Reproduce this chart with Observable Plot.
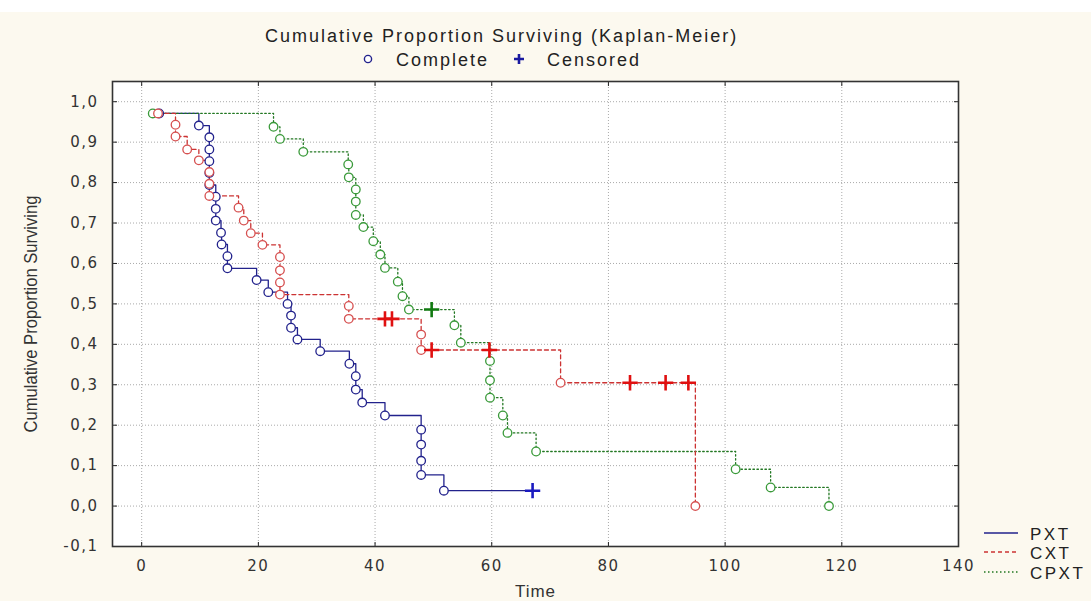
<!DOCTYPE html>
<html><head><meta charset="utf-8">
<script src="https://cdn.jsdelivr.net/npm/d3@7"></script>
<script src="https://cdn.jsdelivr.net/npm/@observablehq/plot@0.6"></script>
<style>
html,body{margin:0;padding:0;background:#fcf9ef;}
#wrap{position:relative;width:1091px;height:601px;background:#fcf9ef;overflow:hidden;}
#head{position:relative;height:70px;}
#strip{position:absolute;left:0;top:0;width:1091px;height:12px;background:#fff;}
.t{position:absolute;font-family:"Liberation Sans",Arial,sans-serif;color:#222;white-space:nowrap;line-height:1;}
#chart svg{display:block;}
</style></head><body>
<div id="wrap">
  <div id="head">
    <div id="strip"></div>
    <div class="t" style="left:265px;top:27px;font-size:18px;letter-spacing:2px;">Cumulative Proportion Surviving (Kaplan-Meier)</div>
    <svg style="position:absolute;left:362px;top:53px" width="12" height="12"><circle cx="6" cy="6" r="3.6" fill="white" stroke="#22228c" stroke-width="1.4"/></svg>
    <div class="t" style="left:396px;top:51px;font-size:18px;letter-spacing:2px;">Complete</div>
    <svg style="position:absolute;left:512px;top:52px" width="14" height="14"><path d="M7,2V12M2,7H12" stroke="#1a1aa0" stroke-width="2.6"/></svg>
    <div class="t" style="left:547px;top:51px;font-size:18px;letter-spacing:2px;">Censored</div>
  </div>
  <div id="chart"></div>
  <svg style="position:absolute;left:980px;top:525px" width="42" height="60">
    <line x1="4" x2="38" y1="8" y2="8" stroke="#22228c" stroke-width="1.3"/>
    <line x1="4" x2="38" y1="27" y2="27" stroke="#cc3333" stroke-width="1.3" stroke-dasharray="4,3"/>
    <line x1="4" x2="38" y1="47" y2="47" stroke="#227722" stroke-width="1.3" stroke-dasharray="1.5,2.5"/>
  </svg>
  <div class="t" style="left:1030px;top:526px;font-size:17px;letter-spacing:2.5px;">PXT</div>
  <div class="t" style="left:1030px;top:545px;font-size:17px;letter-spacing:2.5px;">CXT</div>
  <div class="t" style="left:1030px;top:565px;font-size:17px;letter-spacing:2.5px;">CPXT</div>
</div>
<script>
// ---- data ----
const seriesNames = ["PXT", "CXT", "CPXT"];
const xTicks = [0, 20, 40, 60, 80, 100, 120, 140];
const yTicks = [-0.1, 0, 0.1, 0.2, 0.3, 0.4, 0.5, 0.6, 0.7, 0.8, 0.9, 1.0];

// PXT (0 = complete, 1 = censored)
const pxtTime = [3, 9.8, 11.6, 11.6, 11.6, 11.6, 11.6, 12.7, 12.7, 12.7, 13.6, 13.7, 14.7, 14.7, 19.7, 21.7, 25.0, 25.6, 25.6, 26.7, 30.6, 35.6, 36.7, 36.7, 37.8, 41.7, 47.9, 47.9, 47.9, 47.9, 51.8, 67];
const pxtSurv = [0.971, 0.941, 0.912, 0.882, 0.853, 0.824, 0.794, 0.765, 0.735, 0.706, 0.676, 0.647, 0.618, 0.588, 0.559, 0.529, 0.500, 0.471, 0.441, 0.412, 0.383, 0.352, 0.321, 0.288, 0.256, 0.224, 0.189, 0.152, 0.112, 0.077, 0.038, 0.038];
const pxtCens = [0,0,0,0,0,0,0,0,0,0,0,0,0,0,0,0,0,0,0,0,0,0,0,0,0,0,0,0,0,0,0,1];

// CXT
const cxtTime = [2.8, 5.8, 5.8, 7.8, 9.8, 11.6, 11.6, 11.6, 16.6, 17.5, 18.7, 20.7, 23.7, 23.7, 23.7, 23.7, 35.5, 35.5, 41.7, 42.9, 47.9, 47.9, 49.7, 59.6, 71.8, 83.7, 89.8, 93.7, 94.9];
const cxtSurv = [0.971, 0.943, 0.914, 0.882, 0.855, 0.826, 0.797, 0.767, 0.738, 0.706, 0.675, 0.646, 0.616, 0.583, 0.553, 0.523, 0.495, 0.463, 0.463, 0.463, 0.424, 0.386, 0.386, 0.386, 0.305, 0.305, 0.305, 0.305, 0.0];
const cxtCens = [0,0,0,0,0,0,0,0,0,0,0,0,0,0,0,0,0,0,1,1,0,0,1,1,0,1,1,1,0];

// CPXT
const cpxtTime = [1.9, 22.6, 23.7, 27.7, 35.4, 35.5, 36.7, 36.7, 36.7, 38.0, 39.7, 40.9, 41.7, 43.9, 44.7, 45.8, 49.7, 53.6, 54.7, 59.7, 59.7, 59.7, 61.9, 62.7, 67.6, 101.8, 107.8, 117.8];
const cpxtSurv = [0.971, 0.938, 0.908, 0.876, 0.845, 0.813, 0.783, 0.753, 0.720, 0.690, 0.655, 0.622, 0.589, 0.555, 0.519, 0.486, 0.486, 0.447, 0.404, 0.359, 0.311, 0.268, 0.224, 0.181, 0.135, 0.091, 0.046, 0.0];
const cpxtCens = [0,0,0,0,0,0,0,0,0,0,0,0,0,0,0,0,1,0,0,0,0,0,0,0,0,0,0,0];

// ---- build table ----
function rowsOf(name, T, S, C) { return T.map((t, i) => ({series: name, t, s: S[i], c: C[i]})); }
const pxt = rowsOf("PXT", pxtTime, pxtSurv, pxtCens);
const cxt = rowsOf("CXT", cxtTime, cxtSurv, cxtCens);
const cpxt = rowsOf("CPXT", cpxtTime, cpxtSurv, cpxtCens);

const fmt = d => d.toFixed(1).replace(".", ",");
const blank = () => "";

const chart = Plot.plot({
  width: 1091,
  height: 531,
  marginTop: 11,
  marginBottom: 55,
  marginLeft: 112,
  marginRight: 133,
  style: {background: "transparent", fontFamily: "'DejaVu Sans', sans-serif", fontSize: "15px", color: "#333"},
  x: {domain: [-5, 140]},
  y: {domain: [-0.1, 1.05]},
  marks: [
    Plot.rect([0], {x1: -5, x2: 140, y1: -0.1, y2: 1.05, fill: "white"}),
    Plot.gridX(xTicks, {stroke: "#aaa", strokeOpacity: 1, strokeDasharray: "1,2"}),
    Plot.gridY(yTicks, {stroke: "#aaa", strokeOpacity: 1, strokeDasharray: "1,2"}),
    Plot.axisY({ticks: yTicks, tickFormat: fmt, tickSize: -5, tickPadding: 19, label: null, stroke: "#222"}),
    Plot.axisY({ticks: [], label: "Cumulative Proportion Surviving", labelAnchor: "center", labelOffset: 88, labelArrow: "none", fontFamily: "'Liberation Sans', sans-serif", fontSize: 18}),
    Plot.axisY({anchor: "right", ticks: yTicks, tickFormat: blank, tickSize: -5, label: null, stroke: "#222"}),
    Plot.axisX({ticks: xTicks, tickSize: -4, tickPadding: 18, label: null, stroke: "#222"}),
    Plot.axisX({ticks: [], label: "Time", labelAnchor: "center", labelOffset: 50, labelArrow: "none", fontFamily: "'Liberation Sans', sans-serif", fontSize: 17}),
    Plot.axisX({anchor: "top", ticks: xTicks, tickFormat: blank, tickSize: -4, label: null, stroke: "#222"}),
    Plot.frame({stroke: "#333", strokeWidth: 1.6}),
    Plot.line(pxt, {x: "t", y: "s", curve: "step-after", stroke: "#22228c", strokeWidth: 1.3}),
    Plot.line(cpxt, {x: "t", y: "s", curve: "step-after", stroke: "#227722", strokeWidth: 1.3, strokeDasharray: "1.5,2.5"}),
    Plot.line(cxt, {x: "t", y: "s", curve: "step-after", stroke: "#cc3333", strokeWidth: 1.3, strokeDasharray: "4,3"}),
    Plot.dot(pxt.filter(d => !d.c), {x: "t", y: "s", r: 4.3, fill: "white", stroke: "#22228c", strokeWidth: 1.3}),
    Plot.dot(cpxt.filter(d => !d.c), {x: "t", y: "s", r: 4.3, fill: "white", stroke: "#3a9a3a", strokeWidth: 1.3}),
    Plot.dot(cxt.filter(d => !d.c), {x: "t", y: "s", r: 4.3, fill: "white", stroke: "#d65050", strokeWidth: 1.3}),
    Plot.dot(pxt.filter(d => d.c), {x: "t", y: "s", symbol: "plus", r: 5, stroke: "#1a1ac0", strokeWidth: 2.6}),
    Plot.dot(cpxt.filter(d => d.c), {x: "t", y: "s", symbol: "plus", r: 5, stroke: "#117a11", strokeWidth: 2.6}),
    Plot.dot(cxt.filter(d => d.c), {x: "t", y: "s", symbol: "plus", r: 5, stroke: "#e01010", strokeWidth: 2.6})
  ]
});
document.getElementById("chart").appendChild(chart);
chart.querySelectorAll('[aria-label="y-axis tick label"] text, [aria-label="x-axis tick label"] text').forEach(t => t.setAttribute("letter-spacing", "1.5"));
chart.querySelectorAll('[aria-label="x-axis label"] text').forEach(t => t.setAttribute("letter-spacing", "1"));
chart.querySelectorAll('[aria-label="y-axis label"] text').forEach(t => { t.setAttribute("textLength", "237"); t.setAttribute("lengthAdjust", "spacingAndGlyphs"); });
</script>
</body></html>
